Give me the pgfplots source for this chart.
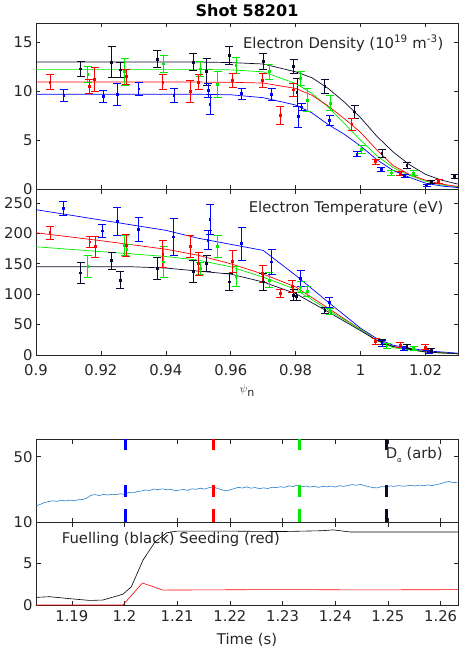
\documentclass[border=0pt]{standalone}
\usepackage{pgfplots}
\pgfplotsset{compat=1.18}
\usepackage{fontspec}
\setmainfont{DejaVu Sans}
\definecolor{nblk}{RGB}{10,10,45}
\definecolor{ax}{RGB}{38,38,38}
\definecolor{dacol}{RGB}{40,125,205}
\definecolor{gr}{RGB}{0,235,0}
\newcommand{\ff}{\fontsize{14.8}{17}\selectfont}
\pgfplotsset{
 mat/.style={scale only axis, width=422pt,
   axis line style={ax, line width=0.6pt}, tick style={ax, line width=0.6pt},
   tick align=inside, major tick length=4.5pt,
   every tick label/.append style={font=\ff, text=ax},
   label style={font=\ff, text=ax},
   /pgf/number format/assume math mode=true},
 errb/.style={only marks, mark=square*, mark size=0.9pt, line width=0.9pt,
   error bars/y dir=both, error bars/y explicit,
   error bars/error bar style={line width=0.9pt},
   error bars/error mark options={rotate=90, mark size=4pt, line width=0.9pt}},
 fit/.style={line width=0.7pt, no marks},
 vdash/.style={line width=3pt, dash pattern=on 11pt off 35pt on 11.7pt off 12.3pt on 14pt}
}
\begin{document}
\begin{tikzpicture}
\useasboundingbox (0,0) rectangle (458pt,-653pt);
\node[font=\bfseries\fontsize{16}{18}\selectfont] at (247pt,-11pt) {Shot 58201};
% ---------------- density
\begin{axis}[mat, at={(36pt,-189pt)}, anchor=south west, height=166pt,
  xmin=0.9, xmax=1.03, ymin=0, ymax=17, ytick={0,5,10,15},
  xtick={0.9,0.92,0.94,0.96,0.98,1,1.02}, xticklabels={}]
\addplot[fit, nblk] coordinates {(0.9,13.0)(0.95,13.0)(0.96,12.95)(0.97,12.8)(0.98,12.0)(0.985,11.4)(0.99,10.3)(0.995,8.9)(1.0,7.3)(1.005,5.4)(1.01,3.8)(1.015,2.5)(1.02,1.5)(1.025,0.9)(1.03,0.5)};
\addplot[fit, gr] coordinates {(0.9,12.25)(0.95,12.25)(0.96,12.2)(0.97,12.0)(0.98,10.8)(0.985,9.8)(0.99,8.4)(0.995,6.7)(1.0,5.0)(1.005,3.4)(1.01,2.2)(1.015,1.4)(1.02,0.8)(1.025,0.4)(1.03,0.2)};
\addplot[fit, red] coordinates {(0.9,10.95)(0.95,10.95)(0.96,10.93)(0.97,10.85)(0.98,10.3)(0.985,9.6)(0.99,8.5)(0.995,7.2)(1.0,5.8)(1.005,4.0)(1.01,2.4)(1.015,1.5)(1.02,0.9)(1.025,0.5)(1.03,0.25)};
\addplot[fit, blue] coordinates {(0.9,9.7)(0.95,9.7)(0.96,9.65)(0.97,9.35)(0.98,8.6)(0.985,7.8)(0.99,6.6)(0.995,5.6)(1.0,4.4)(1.005,3.0)(1.01,1.9)(1.015,1.2)(1.02,0.6)(1.025,0.3)(1.03,0.15)};
\addplot[errb, nblk] table[x=x, y=y, y error=e, row sep=\\] {
x y e\\ 0.9138 12.3 0.8\\ 0.9233 13.0 1.6\\ 0.9260 12.2 0.8\\ 0.9374 13.3 0.85\\
0.9485 13.0 0.85\\ 0.9526 12.0 1.4\\ 0.9595 13.7 0.9\\ 0.9700 13.05 0.85\\
0.9794 12.55 0.75\\ 0.9804 9.9 1.45\\ 0.9890 10.5 0.75\\ 0.9982 7.9 0.7\\
1.0066 3.65 0.4\\ 1.0143 2.45 0.3\\ 1.0218 0.75 0.15\\ 1.0290 1.3 0.2\\};
\addplot[errb, gr] table[x=x, y=y, y error=e, row sep=\\] {
x y e\\ 0.9160 11.75 0.85\\ 0.9273 12.0 1.35\\ 0.9393 12.8 0.85\\ 0.9506 12.3 0.8\\
0.9560 10.7 1.3\\ 0.9616 12.65 0.85\\ 0.9718 12.0 0.8\\ 0.9815 11.3 0.7\\
0.9836 9.1 1.15\\ 0.9907 8.8 0.75\\ 1.0003 4.05 0.4\\ 1.0095 1.65 0.3\\ 1.0163 1.6 0.25\\};
\addplot[errb, red] table[x=x, y=y, y error=e, row sep=\\] {
x y e\\ 0.9043 10.95 0.75\\ 0.9164 10.5 0.7\\ 0.9181 11.2 1.25\\ 0.9278 11.5 0.75\\
0.9391 10.95 0.75\\ 0.9475 10.0 1.1\\ 0.9501 10.95 0.75\\ 0.9606 11.1 0.75\\
0.9698 11.1 0.75\\ 0.9752 7.55 0.9\\ 0.9793 10.15 0.7\\ 0.9973 6.6 0.6\\
1.0046 2.8 0.25\\ 1.0122 1.6 0.2\\ 1.0240 0.8 0.2\\};
\addplot[errb, blue] table[x=x, y=y, y error=e, row sep=\\] {
x y e\\ 0.9086 9.55 0.6\\ 0.9207 9.5 0.6\\ 0.9250 9.7 1.1\\ 0.9317 10.25 0.7\\
0.9425 9.6 0.7\\ 0.9531 10.1 0.7\\ 0.9536 8.65 1.0\\ 0.9634 9.75 0.55\\
0.9726 9.65 0.6\\ 0.9808 7.4 1.05\\ 0.9818 8.4 0.4\\ 0.9905 7.05 0.5\\
0.9989 3.55 0.25\\ 1.0064 2.0 0.2\\ 1.0136 1.35 0.15\\ 1.0204 0.4 0.1\\};
\node[anchor=base east, font=\ff, text=ax] at (rel axis cs:0.974,0.849) {Electron Density (10\textsuperscript{19} m\textsuperscript{-3})};
\end{axis}
% ---------------- temperature
\begin{axis}[mat, at={(36pt,-355pt)}, anchor=south west, height=166pt,
  xmin=0.9, xmax=1.03, ymin=0, ymax=273, ytick={0,50,100,150,200,250},
  xtick={0.9,0.92,0.94,0.96,0.98,1,1.02},
  xticklabels={0.9,0.92,0.94,0.96,0.98,1,1.02},
  xticklabel style={yshift=-6pt},
  xlabel={{\fontsize{11}{12}\selectfont$\psi$}\raisebox{-4pt}{\fontsize{11}{12}\selectfont n}},
  every axis x label/.style={at={(axis description cs:0.5,-0.215)}, anchor=center, font=\ff, text=ax}]
\addplot[fit, blue] coordinates {(0.9,239)(0.92,222)(0.94,205)(0.95,192)(0.96,182)(0.97,172)(0.98,131)(0.99,87)(1.0,44)(1.005,27)(1.01,16)(1.02,7)(1.03,3)};
\addplot[fit, red] coordinates {(0.9,201)(0.92,188)(0.94,174)(0.95,164)(0.96,150)(0.97,133)(0.98,112)(0.99,77)(1.0,42)(1.005,24)(1.01,14)(1.02,5)(1.03,2)};
\addplot[fit, gr] coordinates {(0.9,178)(0.92,170)(0.94,162)(0.95,156)(0.96,145)(0.97,128)(0.98,108)(0.99,74)(1.0,42)(1.005,24)(1.01,12)(1.02,5)(1.03,2)};
\addplot[fit, nblk] coordinates {(0.9,145)(0.93,145)(0.94,143)(0.95,138)(0.96,133)(0.97,120)(0.98,101)(0.99,71)(1.0,40)(1.005,24)(1.01,14)(1.02,5)(1.03,2)};
\addplot[errb, nblk] table[x=x, y=y, y error=e, row sep=\\] {
x y e\\ 0.9138 135 17\\ 0.9233 155 14\\ 0.9260 123 14\\ 0.9374 142 18\\ 0.9485 138 18\\
0.9526 150 13\\ 0.9595 120 14\\ 0.9700 120 14\\ 0.9794 98 9\\ 0.9803 96 7\\ 0.9890 73 5\\
1.0066 22 4\\ 1.0143 14 3\\ 1.0218 8 3\\};
\addplot[errb, gr] table[x=x, y=y, y error=e, row sep=\\] {
x y e\\ 0.9160 145 18\\ 0.9273 180 16\\ 0.9280 174 7\\ 0.9393 153 25\\ 0.9506 142 10\\
0.9560 179 18\\ 0.9616 129 16\\ 0.9718 123 12\\ 0.9815 112 9\\ 0.9836 104 8\\
0.9907 71 5\\ 1.0081 15 4\\ 1.0163 11 3\\};
\addplot[errb, red] table[x=x, y=y, y error=e, row sep=\\] {
x y e\\ 0.9043 201 11\\ 0.9166 186 9\\ 0.9183 178 17\\ 0.9278 180 18\\ 0.9391 166 22\\
0.9475 179 18\\ 0.9501 150 19\\ 0.9606 154 18\\ 0.9698 134 14\\ 0.9752 101 7\\
0.9790 113 10\\ 1.0046 22 5\\ 1.0122 16 4\\ 1.0199 13 4\\};
\addplot[errb, blue] table[x=x, y=y, y error=e, row sep=\\] {
x y e\\ 0.9084 241 12\\ 0.9204 204 11\\ 0.9250 220 23\\ 0.9316 207 20\\ 0.9424 194 30\\
0.9530 189 16\\ 0.9536 223 25\\ 0.9634 183 27\\ 0.9726 153 20\\ 0.9815 126 13\\
0.9904 86 8\\ 1.0066 19 5\\ 1.0133 11 3\\ 1.0210 5 3\\};
\node[anchor=base east, font=\ff, text=ax] at (rel axis cs:0.974,0.86) {Electron Temperature (eV)};
\end{axis}
% ---------------- D alpha
\begin{axis}[mat, at={(36pt,-522pt)}, anchor=south west, height=83pt,
  xmin=1.1832, xmax=1.2633, ymin=10, ymax=60.8, ytick={10,50},
  xtick={1.19,1.2,1.21,1.22,1.23,1.24,1.25,1.26}, xticklabels={}]
\addplot[dacol, line width=0.6pt, no marks] coordinates {
(1.1832,19.8)(1.1840,20.8)(1.1848,21.9)(1.1856,22.5)(1.1864,23.0)(1.1872,22.6)(1.1880,23.3)(1.1888,22.9)(1.1896,23.4)(1.1904,23.0)
(1.1912,23.6)(1.1920,23.8)(1.1928,24.5)(1.1936,26.3)(1.1944,26.8)(1.1952,26.2)(1.1960,26.9)(1.1968,26.5)(1.1976,27.0)(1.1984,26.7)
(1.1992,27.3)(1.2000,26.9)(1.2008,28.2)(1.2016,27.8)(1.2024,28.6)(1.2032,29.0)(1.2040,29.6)(1.2048,29.3)(1.2056,30.2)(1.2064,29.8)
(1.2072,30.3)(1.2080,29.7)(1.2088,29.9)(1.2096,29.2)(1.2104,29.5)(1.2112,29.9)(1.2120,29.4)(1.2128,30.3)(1.2136,30.0)(1.2144,30.7)
(1.2152,30.1)(1.2160,31.0)(1.2168,31.5)(1.2176,30.6)(1.2184,29.8)(1.2192,29.1)(1.2200,29.6)(1.2208,30.4)(1.2216,31.2)(1.2224,30.8)
(1.2232,31.5)(1.2240,30.7)(1.2248,31.1)(1.2256,30.4)(1.2264,30.9)(1.2272,30.5)(1.2280,31.3)(1.2288,31.0)(1.2296,31.6)(1.2304,31.2)
(1.2312,32.1)(1.2320,31.7)(1.2328,32.6)(1.2336,31.5)(1.2344,32.0)(1.2352,31.4)(1.2360,31.9)(1.2368,31.2)(1.2376,31.8)(1.2384,31.5)
(1.2392,32.0)(1.2400,31.4)(1.2408,32.2)(1.2416,31.8)(1.2424,32.3)(1.2432,32.9)(1.2440,32.5)(1.2448,33.0)(1.2456,32.2)(1.2464,31.6)
(1.2472,31.0)(1.2480,30.9)(1.2488,31.7)(1.2496,31.5)(1.2504,32.1)(1.2512,31.8)(1.2520,32.3)(1.2528,31.9)(1.2536,32.1)(1.2544,32.5)
(1.2552,32.0)(1.2560,32.6)(1.2568,32.2)(1.2576,32.7)(1.2584,32.3)(1.2592,32.9)(1.2600,33.4)(1.2608,34.3)(1.2616,34.8)(1.2624,34.1)(1.2632,34.3)};
\addplot[blue, vdash] coordinates {(1.2002,60.8)(1.2002,10)};
\addplot[red, vdash] coordinates {(1.2169,60.8)(1.2169,10)};
\addplot[gr, vdash] coordinates {(1.2333,60.8)(1.2333,10)};
\addplot[nblk, vdash] coordinates {(1.2497,60.8)(1.2497,10)};
\node[anchor=base east, font=\ff, text=ax] at (rel axis cs:0.972,0.767) {D\raisebox{-4pt}{\fontsize{7}{8}\selectfont α} (arb)};
\end{axis}
% ---------------- fuelling
\begin{axis}[mat, at={(36pt,-605pt)}, anchor=south west, height=83pt,
  xmin=1.1832, xmax=1.2633, ymin=0, ymax=10, ytick={0,5},
  xtick={1.19,1.2,1.21,1.22,1.23,1.24,1.25,1.26},
  xticklabels={1.19,1.2,1.21,1.22,1.23,1.24,1.25,1.26},
  xticklabel style={yshift=-2pt}, xlabel={Time (s)},
  every axis x label/.style={at={(axis description cs:0.5,-0.42)}, anchor=center, font=\ff, text=ax}]
\addplot[black, line width=0.6pt, no marks] coordinates {(1.1832,0.92)(1.1858,1.0)(1.189,0.8)(1.1934,0.55)(1.1959,0.6)(1.1997,1.3)(1.2013,2.2)(1.2035,5.4)(1.2058,7.6)(1.208,8.7)(1.2099,8.9)(1.22,8.9)(1.23,8.85)(1.2375,8.95)(1.2396,9.05)(1.2428,8.8)(1.25,8.8)(1.2633,8.8)};
\addplot[red, line width=0.6pt, no marks] coordinates {(1.1832,0)(1.1997,0)(1.2034,2.65)(1.2073,1.8)(1.215,1.82)(1.225,1.85)(1.235,1.85)(1.245,1.82)(1.2633,1.85)};
\node[anchor=base west, font=\ff, text=ax] at (rel axis cs:0.053,0.743) {Fuelling (black) Seeding (red)};
\end{axis}
\end{tikzpicture}
\end{document}
